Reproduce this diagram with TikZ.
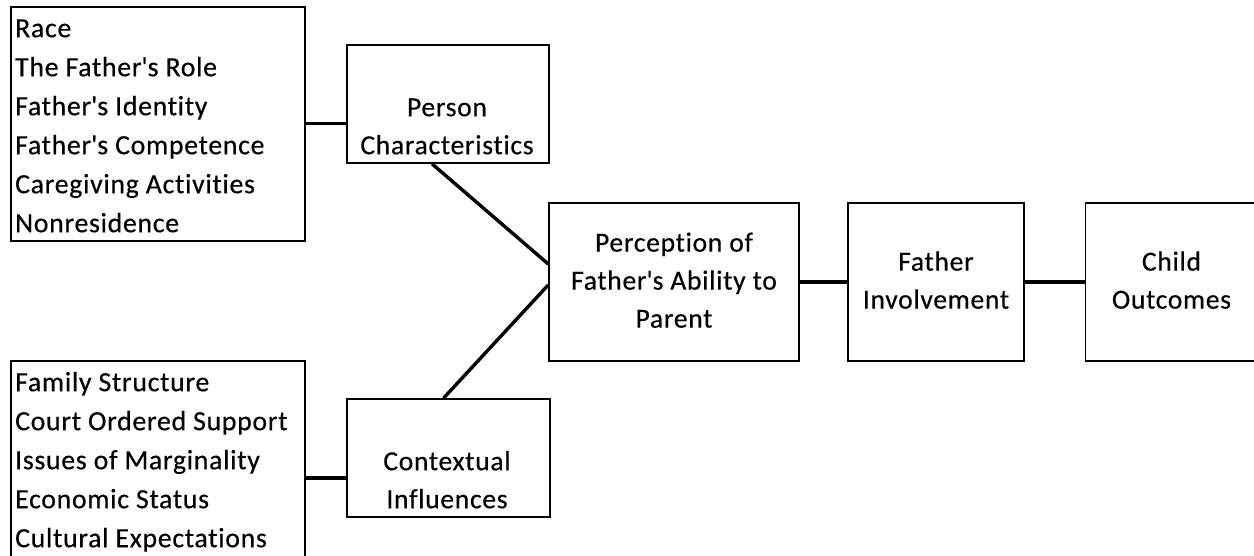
\documentclass[tikz,border=0pt]{standalone}
\usepackage{fontspec}
\setmainfont{Carlito}[Ligatures=NoCommon, LetterSpace=2.5, FakeBold=0.4]
\newcommand{\ap}{\textquotesingle}
\begin{document}
\begin{tikzpicture}[x=1pt,y=-1pt,
  box/.style={draw=black, line width=1.6pt, rectangle, inner sep=0pt},
  boxtext/.style={font=\fontsize{27.6}{38}\selectfont, align=center, inner sep=0pt},
  listtext/.style={font=\fontsize{27.8}{39}\selectfont, align=left, inner sep=0pt, anchor=north west},
  link/.style={draw=black, line width=3.4pt}]
\useasboundingbox (0,0) rectangle (1254,556);
\clip (0,0) rectangle (1254,556);
\fill[white] (0,0) rectangle (1254,556);
% list boxes
\node[box, minimum width=294pt, minimum height=234pt, anchor=north west] (L1) at (10,6) {};
\node[listtext] (L1t) at (15,9.7) {\strut Race\\\strut The Father\ap s Role\\\strut Father\ap s Identity\\\strut Father\ap s Competence\\\strut Caregiving Activities\\\strut Nonresidence};
\node[box, minimum width=294pt, minimum height=234pt, anchor=north west] (L2) at (10,360) {};
\node[listtext] (L2t) at (15,363.7) {\strut Family Structure\\\strut Court Ordered Support\\\strut Issues of Marginality\\\strut Economic Status\\\strut Cultural Expectations};
% person / context
\node[box, minimum width=202pt, minimum height=118pt] (P) at (448,104) {};
\node[boxtext, anchor=north] (Pt) at (447,89.4) {\strut Person\\\strut Characteristics};
\node[box, minimum width=203pt, minimum height=118pt] (C) at (448.5,458) {};
\node[boxtext, anchor=north] (Ct) at (447,443.4) {\strut Contextual\\\strut Influences};
% main chain
\node[box, boxtext, minimum width=250pt, minimum height=158pt] (Per) at (674,282) {\strut Perception of\\\strut Father\ap s Ability to\\\strut Parent};
\node[box, boxtext, minimum width=176pt, minimum height=158pt] (F) at (936,282) {\strut Father\\\strut Involvement};
\node[box, boxtext, minimum width=172pt, minimum height=158pt] (Ch) at (1171.5,282) {\strut Child\\\strut Outcomes};
% connectors
\draw[link] (L1.east) -- (L1.east -| P.west);
\draw[link] (L2.east) -- (L2.east -| C.west);
\draw[link] ([xshift=-16pt]P.south) -- ([yshift=18pt]Per.west);
\draw[link] ([xshift=-5pt]C.north) -- ([yshift=-3pt]Per.west);
\draw[link] (Per.east) -- (F.west);
\draw[link] (F.east) -- (Ch.west);
\end{tikzpicture}
\end{document}
